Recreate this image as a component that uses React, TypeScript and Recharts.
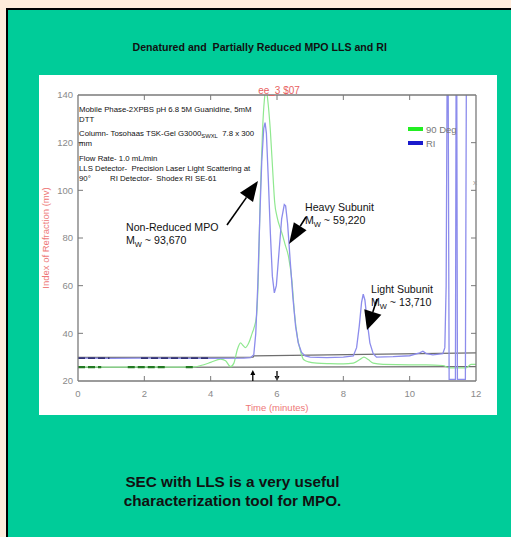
import React from 'react';
import { ComposedChart, Line, XAxis, YAxis, ReferenceDot, Legend } from 'recharts';

const FONT = '"Liberation Sans", Arial, Helvetica, sans-serif';
const FRAME = '#7a7a7a';
const TICK_TEXT = '#8a8a8a';
const AXIS_RED = '#ee7777';

// ---- data ----
const xTicks = [0, 2, 4, 6, 8, 10, 12];
const yTicks = [20, 40, 60, 80, 100, 120, 140];
const innerXTicks = [2, 4, 6, 8, 10];
const innerYTicks = [40, 60, 80, 100, 120];

const riTime = [0, 1, 2, 3, 4, 5.0, 5.2, 5.3, 5.36, 5.42, 5.48, 5.54, 5.6, 5.64, 5.68, 5.74, 5.8, 5.86, 5.92, 5.98, 6.06, 6.14, 6.22, 6.26, 6.32, 6.4, 6.48, 6.56, 6.64, 6.74, 6.85, 7.0, 7.5, 8.0, 8.3, 8.4, 8.48, 8.55, 8.6, 8.65, 8.72, 8.8, 8.9, 9.0, 9.5, 10.0, 10.3, 10.4, 10.5, 10.7, 11.0, 11.06, 11.1, 11.13, 11.16, 11.19, 11.38, 11.4, 11.42, 11.44, 11.68, 11.71, 12];
const riValue = [29.6, 29.5, 29.6, 29.5, 29.5, 29.6, 29.8, 31, 40, 60, 88, 112, 126, 128.4, 124, 104, 82, 64, 57, 60, 74, 88, 94, 93.5, 86, 70, 55, 43, 36, 32, 30.5, 30, 29.8, 30, 30.5, 34, 43, 53, 56.4, 54, 45, 36, 31.5, 30, 30.2, 30.6, 31.8, 32.5, 31.5, 31, 31.5, 34, 60, 150, 150, 20.7, 20.7, 150, 150, 20.7, 20.7, 150, 150];

const degTime = [0, 1, 2, 3, 3.5, 3.7, 4.0, 4.3, 4.45, 4.6, 4.7, 4.8, 4.9, 4.97, 5.05, 5.15, 5.25, 5.3, 5.38, 5.44, 5.49, 5.53, 5.57, 5.62, 5.67, 5.72, 5.8, 5.88, 5.93, 6.0, 6.1, 6.15, 6.25, 6.35, 6.45, 6.53, 6.62, 6.7, 6.8, 6.95, 7.2, 7.6, 8.0, 8.3, 8.5, 8.62, 8.75, 8.9, 9.2, 10.0, 10.5, 11.0, 11.2, 11.7, 11.85, 12];
const degValue = [25.8, 25.8, 25.8, 25.8, 25.9, 26.5, 27.8, 29.2, 28.5, 26, 27.5, 33, 36, 35, 34, 36, 40, 42, 47, 65, 95, 112, 127, 138, 143, 138, 125, 106, 95, 89, 84, 82, 77, 72, 62, 48, 38, 33, 29, 28, 27.5, 27.3, 27.2, 27.5, 29, 30, 29, 27.5, 27, 26.8, 26.8, 26.5, 25.5, 25.5, 27, 27];

// dark dashed baseline segments (null = gap)
const riBaseTime = [0, 0.95, 0.96, 1.9, 4.0];
const riBaseValue = [29.6, 29.6, null, 29.6, 29.6];
const degBaseTime = [0, 0.7, 0.71, 1.5, 2.65, 2.66, 3.25, 3.55];
const degBaseValue = [25.8, 25.8, null, 25.8, 25.8, null, 25.8, 25.8];

// gray baseline rulers
const upperRuleTime = [0, 5.28, 5.3, 12];
const upperRuleValue = [29.9, 30.0, 30.5, 31.8];
const lowerRuleTime = [0, 12];
const lowerRuleValue = [25.7, 26.0];

// collection markers
const markerUpTimes = [5.27];
const markerDownTimes = [6.0];
const markerLevel = 20;

// legend
const legendNames = ['90 Deg', 'RI'];
const legendColors = ['#22ee22', '#1a1acc'];

const zip = (t: number[], v: (number | null)[]) => t.map((x, i) => ({ t: x, v: v[i] }));
const riData = zip(riTime, riValue);
const degData = zip(degTime, degValue);
const riBase = zip(riBaseTime, riBaseValue);
const degBase = zip(degBaseTime, degBaseValue);
const upperRule = zip(upperRuleTime, upperRuleValue);
const lowerRule = zip(lowerRuleTime, lowerRuleValue);

// ---- ticks ----
const LeftTick = (p: any) => {
  const { x, y, payload } = p;
  const inner = innerYTicks.includes(payload.value);
  return (
    <g>
      {inner && <line x1={x + 5} x2={x + 10} y1={y} y2={y} stroke={FRAME} strokeWidth={1} />}
      <text x={x} y={y} dy="0.35em" textAnchor="end" fontSize={9.5} fill={TICK_TEXT} fontFamily={FONT}>
        {payload.value}
      </text>
    </g>
  );
};
const BottomTick = (p: any) => {
  const { x, y, payload } = p;
  const inner = innerXTicks.includes(payload.value);
  return (
    <g>
      {inner && <line x1={x} x2={x} y1={y - 9} y2={y - 14} stroke={FRAME} strokeWidth={1} />}
      <text x={x} y={y} dy="0.71em" textAnchor="middle" fontSize={9.5} fill={TICK_TEXT} fontFamily={FONT}>
        {payload.value}
      </text>
    </g>
  );
};
const TopTick = (p: any) => {
  const { x, y } = p;
  return <line x1={x} x2={x} y1={y} y2={y + 5} stroke={FRAME} strokeWidth={1} />;
};
const RightTick = (p: any) => {
  const { x, y } = p;
  return <line x1={x} x2={x - 5} y1={y} y2={y} stroke={FRAME} strokeWidth={1} />;
};

const UpArrow = (p: any) => {
  const { cx, cy } = p;
  return (
    <g>
      <line x1={cx} x2={cx} y1={cy} y2={cy - 7} stroke="#000" strokeWidth={1.3} />
      <polygon points={`${cx - 2.5},${cy - 6} ${cx + 2.5},${cy - 6} ${cx},${cy - 11}`} fill="#000" />
    </g>
  );
};
const DownArrow = (p: any) => {
  const { cx, cy } = p;
  return (
    <g>
      <line x1={cx} x2={cx} y1={cy - 10} y2={cy - 4} stroke="#000" strokeWidth={1.3} />
      <polygon points={`${cx - 2.5},${cy - 5} ${cx + 2.5},${cy - 5} ${cx},${cy}`} fill="#000" />
    </g>
  );
};

const LegendContent = () => (
  <div style={{ fontFamily: FONT }}>
    {legendNames.map((name, i) => (
      <div key={name} style={{ display: 'flex', alignItems: 'center', height: 14 }}>
        <span style={{ display: 'inline-block', width: 15, height: 3.5, background: legendColors[i], marginRight: 3 }} />
        <span style={{ fontSize: 9.5, color: '#777' }}>{name}</span>
      </div>
    ))}
  </div>
);

// ---- annotation helpers ----
const arrowHead = (tail: [number, number], tip: [number, number], len: number, half: number) => {
  const dx = tip[0] - tail[0];
  const dy = tip[1] - tail[1];
  const d = Math.hypot(dx, dy);
  const ux = dx / d;
  const uy = dy / d;
  const bx = tip[0] - ux * len;
  const by = tip[1] - uy * len;
  const px = -uy * half;
  const py = ux * half;
  return {
    shaft: { x1: tail[0], y1: tail[1], x2: bx, y2: by },
    head: `${tip[0]},${tip[1]} ${bx + px},${by + py} ${bx - px},${by - py}`,
  };
};

const Arrow = ({ tail, tip, len, half }: any) => {
  const a = arrowHead(tail, tip, len, half);
  return (
    <g>
      <line {...a.shaft} stroke="#000" strokeWidth={1.6} />
      <polygon points={a.head} fill="#000" />
    </g>
  );
};

const MwText = ({ x, y, value }: any) => (
  <text x={x} y={y} fontSize={10.6} fill="#111" fontFamily={FONT} style={{ whiteSpace: 'pre' }}>
    M
    <tspan fontSize={7.5} dy={3}>W</tspan>
    <tspan dy={-3}>{` ~ ${value}`}</tspan>
  </text>
);

export default function App() {
  const infoStyle: any = { fontSize: 7.8, fill: '#111', fontFamily: FONT, whiteSpace: 'pre' };
  return (
    <div style={{ position: 'absolute', left: 0, top: 0, width: 511, height: 537, background: '#FFECDB', overflow: 'hidden', fontFamily: FONT }}>
      <div
        style={{
          position: 'absolute', left: 6, top: 8, width: 505, height: 529, background: '#00CC99',
          borderLeft: '2px solid #000', borderTop: '2px solid #000', boxSizing: 'border-box',
        }}
      />
      <div style={{ position: 'absolute', left: 39, top: 75, width: 458, height: 340, background: '#ffffff' }}>
        <ComposedChart width={458} height={340} margin={{ top: 19, right: 20, bottom: 0, left: 0 }}>
          <XAxis
            xAxisId={0} dataKey="t" type="number" domain={[0, 12]} ticks={xTicks} allowDataOverflow
            height={34} tickLine={false} tickSize={0} tickMargin={9} tick={BottomTick}
            axisLine={{ stroke: FRAME, strokeWidth: 1.3 }}
            label={{ value: 'Time (minutes)', position: 'insideBottom', offset: 4.5, fill: AXIS_RED, fontSize: 9.5, fontFamily: FONT }}
          />
          <XAxis
            xAxisId="top" orientation="top" dataKey="t" type="number" domain={[0, 12]} ticks={innerXTicks} allowDataOverflow
            height={1} tickLine={false} tickSize={0} tickMargin={0} tick={TopTick}
            axisLine={{ stroke: FRAME, strokeWidth: 1.3 }}
          />
          <YAxis
            yAxisId={0} type="number" domain={[20, 140]} ticks={yTicks} allowDataOverflow
            width={39} tickLine={false} tickSize={0} tickMargin={5} tick={LeftTick}
            axisLine={{ stroke: FRAME, strokeWidth: 1.3 }}
            label={{ value: 'Index of Refraction (mv)', angle: -90, position: 'insideLeft', offset: 6.5, fill: AXIS_RED, fontSize: 9.5, fontFamily: FONT, style: { textAnchor: 'middle' } }}
          />
          <YAxis
            yAxisId="right" orientation="right" type="number" domain={[20, 140]} ticks={innerYTicks} allowDataOverflow
            width={1} tickLine={false} tickSize={0} tickMargin={0} tick={RightTick}
            axisLine={{ stroke: FRAME, strokeWidth: 1.3 }}
          />
          <Line data={lowerRule} dataKey="v" stroke="#6e6e6e" strokeWidth={1.3} dot={false} isAnimationActive={false} legendType="none" />
          <Line data={upperRule} dataKey="v" stroke="#6e6e6e" strokeWidth={1.3} dot={false} isAnimationActive={false} legendType="none" />
          <Line data={degData} name="90 Deg" dataKey="v" stroke="#8fe88f" strokeWidth={1.2} dot={false} isAnimationActive={false} type="monotone" />
          <Line data={riData} name="RI" dataKey="v" stroke="#8c8cec" strokeWidth={1.3} dot={false} isAnimationActive={false} type="linear" />
          <Line data={degBase} dataKey="v" stroke="#237a23" strokeWidth={2.2} strokeDasharray="7 3" dot={false} isAnimationActive={false} legendType="none" connectNulls={false} />
          <Line data={riBase} dataKey="v" stroke="#333377" strokeWidth={1.8} strokeDasharray="7 3" dot={false} isAnimationActive={false} legendType="none" connectNulls={false} />
          {markerUpTimes.map((t) => (
            <ReferenceDot key={'u' + t} x={t} y={markerLevel} ifOverflow="visible" shape={UpArrow} />
          ))}
          {markerDownTimes.map((t) => (
            <ReferenceDot key={'d' + t} x={t} y={markerLevel} ifOverflow="visible" shape={DownArrow} />
          ))}
          <Legend
            layout="vertical" align="center" verticalAlign="middle"
            content={LegendContent}
            wrapperStyle={{ left: 369, top: 47, width: 60, height: 30 }}
          />
        </ComposedChart>
      </div>
      <svg width={511} height={537} style={{ position: 'absolute', left: 0, top: 0, pointerEvents: 'none' }}>
        <text x={259.7} y={51} textAnchor="middle" fontSize={10.6} fontWeight="bold" fill="#111" fontFamily={FONT} style={{ whiteSpace: 'pre' }}>
          {'Denatured and  Partially Reduced MPO LLS and RI'}
        </text>
        <text x={279} y={93.5} textAnchor="middle" fontSize={10} fill="#e86060" fontFamily={FONT}>ee_3 $07</text>
        <text x={475} y={185} textAnchor="middle" fontSize={8} fill="#999" fontFamily={FONT}>x</text>

        <text x={79} y={112} style={infoStyle}>Mobile Phase-2XPBS pH 6.8 5M Guanidine, 5mM</text>
        <text x={79} y={122} style={infoStyle}>DTT</text>
        <text x={79} y={136} style={infoStyle}>
          Column- Tosohaas TSK-Gel G3000
          <tspan fontSize={5.8} dy={2}>SWXL</tspan>
          <tspan dy={-2}>{'  7.8 x 300'}</tspan>
        </text>
        <text x={79} y={146} style={infoStyle}>mm</text>
        <text x={79} y={161} style={infoStyle}>Flow Rate- 1.0 mL/min</text>
        <text x={79} y={170.5} style={infoStyle}>{'LLS Detector-  Precision Laser Light Scattering at'}</text>
        <text x={79} y={181} style={infoStyle}>90°</text>
        <text x={110} y={181} style={infoStyle}>{'RI Detector-  Shodex RI SE-61'}</text>

        <text x={126} y={231} fontSize={10.6} fill="#111" fontFamily={FONT}>Non-Reduced MPO</text>
        <MwText x={126} y={244} value="93,670" />
        <Arrow tail={[227, 225]} tip={[258, 181]} len={20} half={8} />

        <text x={305} y={211} fontSize={10.6} fill="#111" fontFamily={FONT}>Heavy Subunit</text>
        <MwText x={305} y={224} value="59,220" />
        <Arrow tail={[306, 217]} tip={[289, 244]} len={21} half={7.5} />

        <text x={371} y={293} fontSize={10.6} fill="#111" fontFamily={FONT}>Light Subunit</text>
        <MwText x={371} y={306} value="13,710" />
        <Arrow tail={[377, 299]} tip={[367, 330]} len={19} half={9} />

        <text x={232.5} y={487} textAnchor="middle" fontSize={15.3} fontWeight="bold" fill="#111" fontFamily={FONT}>SEC with LLS is a very useful</text>
        <text x={232.5} y={505.5} textAnchor="middle" fontSize={15.3} fontWeight="bold" fill="#111" fontFamily={FONT}>characterization tool for MPO.</text>
      </svg>
    </div>
  );
}
